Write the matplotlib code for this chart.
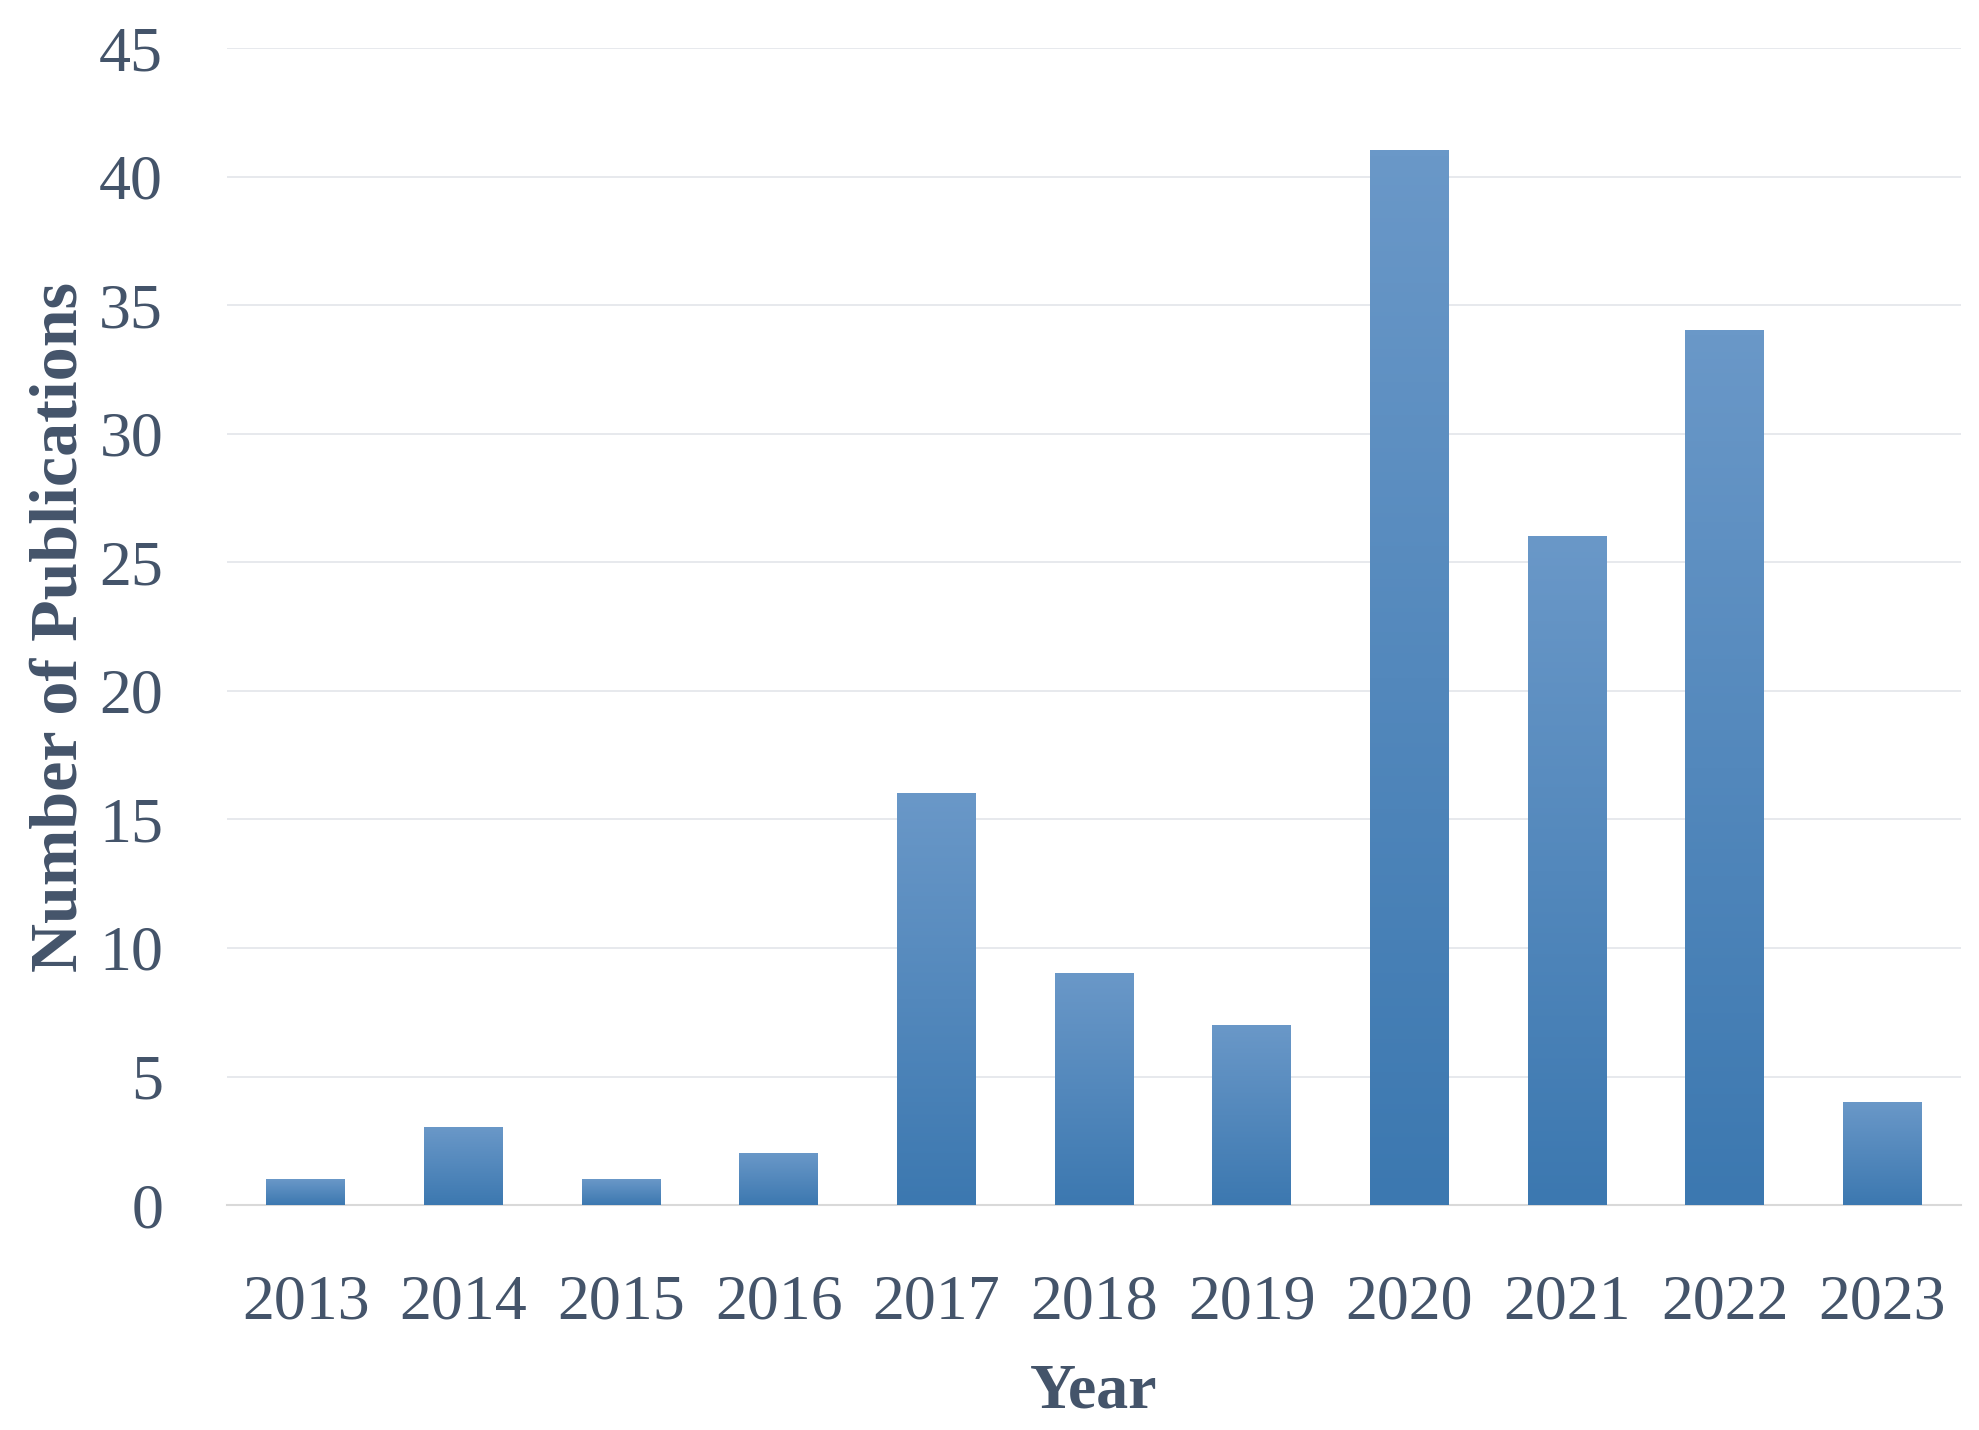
import numpy as np
import matplotlib
matplotlib.use("Agg")
import matplotlib.pyplot as plt
from matplotlib.colors import LinearSegmentedColormap

years = ["2013", "2014", "2015", "2016", "2017", "2018", "2019", "2020", "2021", "2022", "2023"]
publications = [1, 3, 1, 2, 16, 9, 7, 41, 26, 34, 4]

text_color = "#44546A"
plt.rcParams["font.family"] = ["Liberation Serif", "DejaVu Serif"]

fig = plt.figure(figsize=(19.79, 14.30), dpi=100)
ax = fig.add_axes([0.1147, 0.1573, 0.8763, 0.8091])

# each bar gets a vertical gradient: light at top, darker at bottom
cmap = LinearSegmentedColormap.from_list("bar", ["#3C78B0", "#6A98C8"])
grad = np.linspace(0, 1, 256).reshape(-1, 1)

x = np.arange(len(years))
bars = ax.bar(x, publications, width=0.5, color="none", edgecolor="none", zorder=3)
for b in bars:
    x0, w, h = b.get_x(), b.get_width(), b.get_height()
    ax.imshow(grad, cmap=cmap, origin="lower", aspect="auto",
              extent=(x0, x0 + w, 0, h), zorder=3, interpolation="bicubic")

ax.set_xlim(-0.5, len(years) - 0.5)
ax.set_ylim(0, 45)
ax.set_yticks(range(0, 46, 5))
ax.set_xticks(x)
ax.set_xticklabels(years)

ax.grid(axis="y", color="#E3E5EA", linewidth=1.2, zorder=0)
ax.set_axisbelow(True)
for side in ["top", "right", "left"]:
    ax.spines[side].set_visible(False)
ax.spines["bottom"].set_color("#D9D9D9")
ax.spines["bottom"].set_linewidth(1.5)

ax.tick_params(axis="both", length=0, labelsize=46, labelcolor=text_color)
ax.tick_params(axis="y", pad=46)
ax.tick_params(axis="x", pad=50)

ax.set_xlabel("Year", fontsize=46, fontweight="bold", color=text_color, labelpad=22)
ax.set_ylabel("Number of Publications", fontsize=49, fontweight="bold", color=text_color, labelpad=6)

fig.savefig("out.png", dpi=100, facecolor="white")
